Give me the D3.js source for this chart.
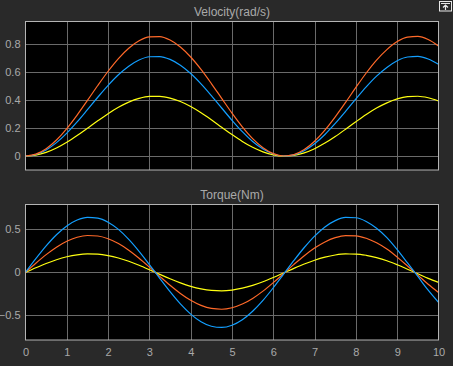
<!DOCTYPE html>
<html><head><meta charset="utf-8">
<script src="https://cdn.jsdelivr.net/npm/d3@7"></script>
<style>html,body{margin:0;padding:0;background:#292929;}svg{display:block;}</style>
</head><body>
<script>
const time = d3.range(0, 10.001, 0.25).map(v => +v.toFixed(2));
const velOrange = [0,0.0133,0.0525,0.1150,0.1970,0.2935,0.3983,0.5050,0.6069,0.6978,0.7720,0.8248,0.8529,0.8547,0.8300,0.7803,0.7087,0.6198,0.5189,0.4127,0.3070,0.2091,0.1249,0.0596,0.0171,0.0001,0.0100,0.0459,0.1055,0.1852,0.2800,0.3836,0.4910,0.5944,0.6866,0.7615,0.8191,0.8509,0.8560,0.8341,0.7882];
const velBlue = [0,0.0111,0.0437,0.0958,0.1642,0.2445,0.3319,0.4207,0.5057,0.5814,0.6432,0.6872,0.7106,0.7121,0.6915,0.6501,0.5905,0.5164,0.4324,0.3438,0.2558,0.1742,0.1040,0.0496,0.0142,0.0001,0.0084,0.0382,0.0879,0.1543,0.2333,0.3196,0.4091,0.4952,0.5721,0.6344,0.6825,0.7090,0.7132,0.6949,0.6567];
const velYellow = [0,0.0067,0.0262,0.0575,0.0985,0.1467,0.1991,0.2525,0.3035,0.3489,0.3860,0.4124,0.4265,0.4273,0.4150,0.3902,0.3544,0.3099,0.2595,0.2063,0.1535,0.1045,0.0624,0.0298,0.0085,0.0000,0.0050,0.0229,0.0527,0.0926,0.1400,0.1918,0.2455,0.2972,0.3433,0.3807,0.4095,0.4254,0.4280,0.4170,0.3941];
const torBlue = [0,0.1583,0.3068,0.4362,0.5386,0.6074,0.6384,0.6298,0.5820,0.4980,0.3830,0.2443,0.0903,-0.0692,-0.2245,-0.3658,-0.4844,-0.5728,-0.6256,-0.6396,-0.6137,-0.5497,-0.4515,-0.3255,-0.1788,-0.0212,0.1377,0.2880,0.4205,0.5268,0.6003,0.6365,0.6332,0.5902,0.5110,0.4032,0.2637,0.1093,-0.0481,-0.2075,-0.3482];
const torOrange = [0,0.1060,0.2055,0.2921,0.3607,0.4067,0.4275,0.4217,0.3897,0.3335,0.2565,0.1636,0.0605,-0.0464,-0.1504,-0.2450,-0.3244,-0.3836,-0.4190,-0.4283,-0.4110,-0.3681,-0.3024,-0.2180,-0.1198,-0.0142,0.0922,0.1929,0.2816,0.3528,0.4020,0.4262,0.4241,0.3953,0.3422,0.2700,0.1766,0.0732,-0.0322,-0.1390,-0.2332];
const torYellow = [0,0.0530,0.1028,0.1461,0.1804,0.2034,0.2138,0.2109,0.1949,0.1668,0.1283,0.0818,0.0303,-0.0232,-0.0752,-0.1225,-0.1622,-0.1918,-0.2095,-0.2142,-0.2055,-0.1841,-0.1512,-0.1090,-0.0599,-0.0071,0.0461,0.0965,0.1408,0.1764,0.2010,0.2131,0.2121,0.1977,0.1711,0.1350,0.0883,0.0366,-0.0161,-0.0695,-0.1166];
const xTicks = [0,1,2,3,4,5,6,7,8,9,10];
const velTicks = [0,0.2,0.4,0.6,0.8];
const torTicks = [-0.5,0,0.5];
const titles = ["Velocity(rad/s)", "Torque(Nm)"];
const colors = {yellow:"#ffff11", blue:"#139fff", orange:"#ff6929"};

const W = 453, H = 366;
const svg = d3.select("body").append("svg").attr("width", W).attr("height", H);
svg.append("rect").attr("width", W).attr("height", H).attr("fill", "#292929");

const x = d3.scaleLinear().domain([0, 10]).range([25.5, 438.5]);
const font = "Arial, 'Liberation Sans', sans-serif";

function panel(top, bottom, yDomain, yTicks, series, title, showX) {
  const y = d3.scaleLinear().domain(yDomain).range([bottom, top]);
  const g = svg.append("g");
  g.append("rect").attr("x", x(0)).attr("y", top).attr("width", x(10) - x(0)).attr("height", bottom - top).attr("fill", "#000");
  g.append("g").selectAll("line").data(xTicks.slice(1, -1)).join("line")
    .attr("x1", d => Math.round(x(d)) + 0.5).attr("x2", d => Math.round(x(d)) + 0.5)
    .attr("y1", top).attr("y2", bottom).attr("stroke", "#6a6a6a").attr("stroke-width", 1);
  g.append("g").selectAll("line").data(yTicks).join("line")
    .attr("y1", d => Math.round(y(d)) + 0.5).attr("y2", d => Math.round(y(d)) + 0.5)
    .attr("x1", x(0)).attr("x2", x(10)).attr("stroke", "#6a6a6a").attr("stroke-width", 1);
  const ya = d3.axisLeft(y).tickValues(yTicks).tickSize(0).tickPadding(5).tickFormat(d => d3.format("~g")(d));
  const yg = g.append("g").attr("transform", `translate(${x(0)},0)`).call(ya);
  yg.select(".domain").remove();
  yg.selectAll("text").attr("fill", "#a9a9a9").attr("font-size", 11).attr("font-family", font);
  if (showX) {
    const xa = d3.axisBottom(x).tickValues(xTicks).tickSize(0).tickPadding(8).tickFormat(d3.format("d"));
    const xg = g.append("g").attr("transform", `translate(0,${bottom})`).call(xa);
    xg.select(".domain").remove();
    xg.selectAll("text").attr("fill", "#a9a9a9").attr("font-size", 11).attr("font-family", font);
  }
  const line = d3.line().x((d, i) => x(time[i])).y(d => y(d)).curve(d3.curveMonotoneX);
  const clipId = "clip" + Math.round(top);
  g.append("clipPath").attr("id", clipId).append("rect").attr("x", x(0)).attr("y", top).attr("width", x(10) - x(0)).attr("height", bottom - top);
  series.forEach(s => {
    g.append("path").datum(s.values).attr("d", line).attr("fill", "none")
      .attr("stroke", s.color).attr("stroke-width", 1.2).attr("clip-path", `url(#${clipId})`);
  });
  g.append("rect").attr("x", x(0)).attr("y", top).attr("width", x(10) - x(0)).attr("height", bottom - top)
    .attr("fill", "none").attr("stroke", "#b4b4b4").attr("stroke-width", 1);
  g.append("text").attr("x", (x(0) + x(10)) / 2).attr("y", top - 6).attr("text-anchor", "middle")
    .attr("fill", "#a9a9a9").attr("font-size", 12).attr("font-family", font).text(title);
}

panel(21.5, 170, [-0.1, 0.963], velTicks, [
  {values: velYellow, color: colors.yellow},
  {values: velBlue, color: colors.blue},
  {values: velOrange, color: colors.orange}
], titles[0], false);

panel(204.5, 340, [-0.785, 0.787], torTicks, [
  {values: torYellow, color: colors.yellow},
  {values: torOrange, color: colors.orange},
  {values: torBlue, color: colors.blue}
], titles[1], true);

// undock button icon
const btn = svg.append("g");
btn.append("rect").attr("x", 439.5).attr("y", 1.5).attr("width", 12).attr("height", 9.5).attr("fill", "none").attr("stroke", "#e8e8e8").attr("stroke-width", 1);
btn.append("line").attr("x1", 441).attr("x2", 450).attr("y1", 3.5).attr("y2", 3.5).attr("stroke", "#e8e8e8");
btn.append("path").attr("d", "M443,7.5 L445.5,5 L448,7.5 M445.5,5 L445.5,10").attr("fill", "none").attr("stroke", "#e8e8e8").attr("stroke-width", 1.2);
</script>
</body></html>
